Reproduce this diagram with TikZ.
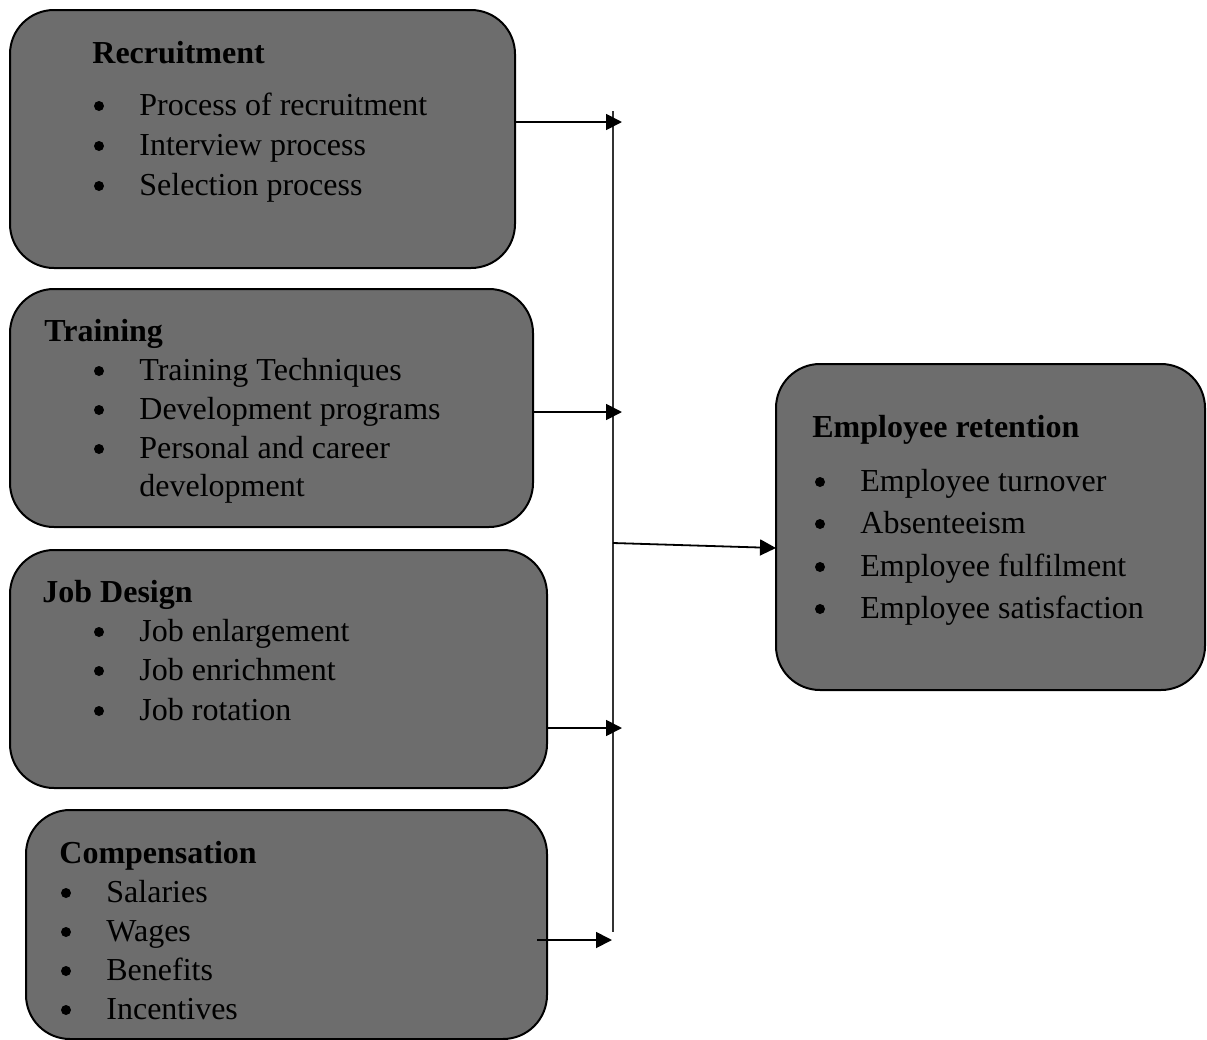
\documentclass[tikz,border=0pt]{standalone}
\usepackage{fontspec}
\setmainfont{Liberation Serif}
\usetikzlibrary{arrows.meta}
\definecolor{boxgray}{RGB}{109,109,109}

\begin{document}
\begin{tikzpicture}[x=0.5pt,y=-0.5pt,
box/.style={draw,line width=1pt,fill=boxgray,rounded corners=22pt,inner sep=0pt},
head/.style={anchor=base west,inner sep=0pt,font=\fontsize{16}{19}\selectfont\bfseries},
item/.style={anchor=base west,inner sep=0pt,font=\fontsize{16}{19}\selectfont},
dot/.style={circle,fill=black,inner sep=0pt,minimum size=5pt},
arr/.style={-{Triangle[length=8pt,width=8pt]},line width=0.9pt}]
\useasboundingbox (0,0) rectangle (1207,1040);

% boxes
\node[box,minimum width=252.5pt,minimum height=129pt] (rec) at (262.5,139) {};
\node[box,minimum width=261.5pt,minimum height=119pt] (trn) at (271.5,408) {};
\node[box,minimum width=268.5pt,minimum height=119pt] (job) at (278.5,669) {};
\node[box,minimum width=260.5pt,minimum height=114.5pt] (cmp) at (286.5,924.5) {};
\node[box,minimum width=214.5pt,minimum height=163pt] (ret) at (990.5,527) {};

% recruitment
\node[head] (rec-h) at (92,63) {Recruitment};
\foreach \y/\t [count=\i] in {115/Process of recruitment,155/Interview process,195/Selection process}{
  \node[dot] (rec-b\i) at (99,\y-9) {};
  \node[item] (rec-\i) at (139,\y) {\t};
}

% training
\node[head] (trn-h) at (44,341) {Training};
\foreach \y/\t [count=\i] in {380/Training Techniques,419/Development programs,458/Personal and career}{
  \node[dot] (trn-b\i) at (99,\y-9) {};
  \node[item] (trn-\i) at (139,\y) {\t};
}
\node[item] (trn-4) at (139,496) {development};

% job design
\node[head] (job-h) at (42,602) {Job Design};
\foreach \y/\t [count=\i] in {641/Job enlargement,680/Job enrichment,720/Job rotation}{
  \node[dot] (job-b\i) at (99,\y-9) {};
  \node[item] (job-\i) at (139,\y) {\t};
}

% compensation
\node[head] (cmp-h) at (59,863) {Compensation};
\foreach \y/\t [count=\i] in {902/Salaries,941/Wages,980/Benefits,1019/Incentives}{
  \node[dot] (cmp-b\i) at (66,\y-9) {};
  \node[item] (cmp-\i) at (106,\y) {\t};
}

% employee retention
\node[head] (ret-h) at (812,437) {Employee retention};
\foreach \y/\t [count=\i] in {491/Employee turnover,533/Absenteeism,576/Employee fulfilment,618/Employee satisfaction}{
  \node[dot] (ret-b\i) at (820,\y-9) {};
  \node[item] (ret-\i) at (860,\y) {\t};
}

% connectors
\coordinate (bus-top) at (613,111);
\coordinate (bus-bot) at (613,932);
\coordinate (bus-mid) at (613,543);
\coordinate (rec-in) at (622,122);
\coordinate (trn-in) at (622,412);
\coordinate (job-in) at (622,728);
\coordinate (cmp-out) at (537,940);
\coordinate (cmp-in) at (612,940);
\coordinate (ret-in) at (776,548);

\draw[line width=0.75pt,black!80] (bus-top) -- (bus-bot);
\draw[arr] (rec.east |- rec-in) -- (rec-in);
\draw[arr] (trn.east |- trn-in) -- (trn-in);
\draw[arr] (job.east |- job-in) -- (job-in);
\draw[arr] (cmp-out) -- (cmp-in);
\draw[arr] (bus-mid) -- (ret-in);
\end{tikzpicture}
\end{document}
